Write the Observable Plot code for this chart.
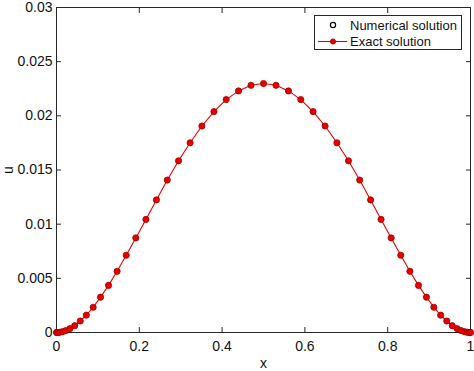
<!DOCTYPE html>
<html>
<head>
<meta charset="utf-8">
<script src="https://cdn.jsdelivr.net/npm/d3@7"></script>
<script src="https://cdn.jsdelivr.net/npm/@observablehq/plot@0.6"></script>
<style>
  html, body { margin: 0; padding: 0; background: #fff; }
  #chart { width: 474px; height: 371px; }
</style>
</head>
<body>
<div id="chart"></div>
<script>
// Sample positions (non-uniform, dense near the ends)
const xValues = [
  0, 0.0009, 0.0036, 0.0082, 0.0145, 0.0226, 0.0325, 0.0441, 0.0573, 0.0721,
  0.0885, 0.1064, 0.1257, 0.1464, 0.1684, 0.1916, 0.2160, 0.2413, 0.2676, 0.2948,
  0.3227, 0.3512, 0.3803, 0.4099, 0.4397, 0.4698, 0.5,
  0.5302, 0.5603, 0.5901, 0.6197, 0.6488, 0.6773, 0.7052, 0.7324, 0.7587, 0.7840,
  0.8084, 0.8316, 0.8536, 0.8743, 0.8936, 0.9115, 0.9279, 0.9427, 0.9559, 0.9675,
  0.9774, 0.9855, 0.9918, 0.9964, 0.9991, 1
];
// u values
const uValues = [
  0, 0.0000003, 0.0000049, 0.000024, 0.000075, 0.00018, 0.00036, 0.00063, 0.00106, 0.0016,
  0.00233, 0.00326, 0.00435, 0.00565, 0.00713, 0.00873, 0.01044, 0.01224, 0.01407, 0.01585,
  0.01751, 0.01906, 0.02039, 0.0215, 0.0223, 0.02282, 0.02298,
  0.02282, 0.0223, 0.0215, 0.02039, 0.01906, 0.01751, 0.01585, 0.01407, 0.01224, 0.01044,
  0.00873, 0.00713, 0.00565, 0.00435, 0.00326, 0.00233, 0.0016, 0.00106, 0.00063, 0.00036,
  0.00018, 0.000075, 0.000024, 0.0000049, 0.0000003, 0
];
const xTicks = [0, 0.2, 0.4, 0.6, 0.8, 1];
const xTickLabels = ["0", "0.2", "0.4", "0.6", "0.8", "1"];
const yTicks = [0, 0.005, 0.01, 0.015, 0.02, 0.025, 0.03];
const yTickLabels = ["0", "0.005", "0.01", "0.015", "0.02", "0.025", "0.03"];
const legendLabels = ["Numerical solution", "Exact solution"];

const data = xValues.map((x, i) => ({x, u: uValues[i]}));
const axisColor = "#262626";
const red = "#e60000";
const font = "'Liberation Sans', Arial, Helvetica, sans-serif";

const chart = Plot.plot({
  width: 474,
  height: 371,
  marginLeft: 56,
  marginRight: 4,
  marginTop: 7,
  marginBottom: 39,
  style: {fontFamily: font, fontSize: "14px", color: axisColor, background: "#fff", overflow: "visible"},
  x: {domain: [0, 1]},
  y: {domain: [0, 0.03]},
  marks: [
    Plot.frame({stroke: axisColor, strokeWidth: 1}),
    Plot.axisX(xTicks, {anchor: "bottom", tickSize: -5, tickPadding: 14, tickFormat: (d, i) => xTickLabels[i],
      label: "x", labelAnchor: "center", labelArrow: "none", labelOffset: 35, stroke: axisColor, fill: "#111"}),
    Plot.axisX(xTicks, {anchor: "top", tickSize: -5, tickFormat: () => "", label: null, stroke: axisColor}),
    Plot.axisY(yTicks, {anchor: "left", tickSize: -5, tickPadding: 9, tickFormat: (d, i) => yTickLabels[i],
      label: "u", labelAnchor: "center", labelArrow: "none", labelOffset: 53, stroke: axisColor, fill: "#111"}),
    Plot.axisY(yTicks, {anchor: "right", tickSize: -5, tickFormat: () => "", label: null, stroke: axisColor}),
    Plot.line(data, {x: "x", y: "u", stroke: red, strokeWidth: 1.1}),
    Plot.dot(data, {x: "x", y: "u", r: 3.1, fill: red, stroke: "#a00000", strokeWidth: 0.8})
  ]
});

// Legend box (top right, inside the axes)
const svg = d3.select(chart);
const lg = svg.append("g").attr("font-family", font).attr("font-size", 13).attr("text-anchor", "start");
lg.append("rect").attr("x", 314.5).attr("y", 15.5).attr("width", 147).attr("height", 34)
  .attr("fill", "#fff").attr("stroke", axisColor).attr("stroke-width", 1);
lg.append("circle").attr("cx", 333).attr("cy", 25).attr("r", 2.6).attr("fill", "none").attr("stroke", "#000").attr("stroke-width", 1.2);
lg.append("text").attr("x", 350).attr("y", 25).attr("dy", "0.36em").attr("fill", "#111").text(legendLabels[0]);
lg.append("line").attr("x1", 318).attr("x2", 347).attr("y1", 41.5).attr("y2", 41.5).attr("stroke", red).attr("stroke-width", 1.1);
lg.append("circle").attr("cx", 333).attr("cy", 41.5).attr("r", 2.6).attr("fill", red).attr("stroke", "#a00000").attr("stroke-width", 0.8);
lg.append("text").attr("x", 350).attr("y", 41.5).attr("dy", "0.36em").attr("fill", "#111").text(legendLabels[1]);

document.getElementById("chart").appendChild(chart);
</script>
</body>
</html>
